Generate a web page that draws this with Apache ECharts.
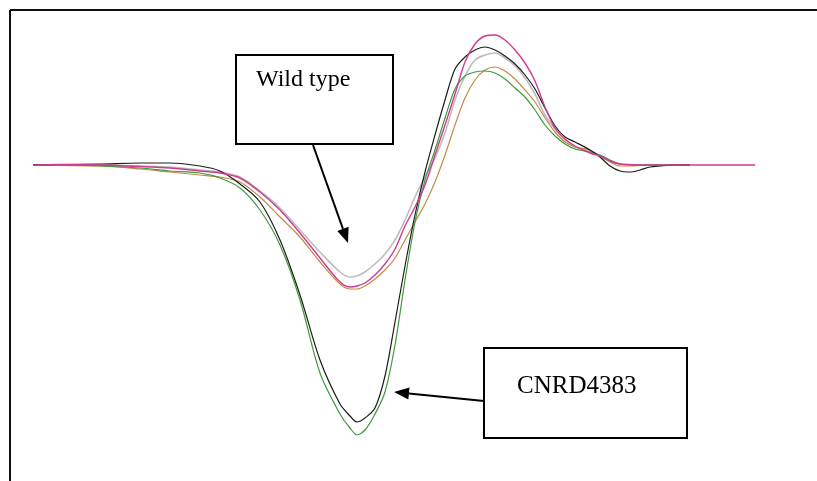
<!DOCTYPE html>
<html>
<head>
<meta charset="utf-8">
<script src="https://cdn.jsdelivr.net/npm/echarts@6/dist/echarts.min.js"></script>
<style>
  html, body { margin: 0; padding: 0; background: #fff; }
  #chart { width: 817px; height: 481px; }
</style>
</head>
<body>
<div id="chart"></div>
<script>
// sample positions (arbitrary field units)
const xs = [0, 2.7, 6.7, 10.7, 13.7, 16.7, 18.7, 20.7, 22.7, 24.7, 26.7, 28.7, 30.7, 31.7, 32.4,
  33.2, 34.2, 35.2, 36.2, 37.2, 38.2, 39.2, 40.2, 41.2, 42.2, 43.2, 44.2, 45.2, 46.2, 47.2,
  48.2, 49.2, 50.2, 51.2, 52.2, 53.2, 54.2, 55.7, 56.7, 57.7, 58.7, 59.7, 60.7, 61.7, 62.7,
  64.2, 65.7, 68.7, 72.2]

// CNRD4383 traces
const blackVals = [0, 0.05, 0.1, 0.2, 0.2, -0.1, -0.6, -1.9, -3.7, -7.5, -13.0, -19.5, -23.9, -25.1, -25.7,
  -25.3, -24.3, -21.1, -15.7, -10.1, -5.0, -0.7, 3.0, 6.5, 9.6, 10.8, 11.5, 11.8, 11.5, 10.9,
  10.1, 9.0, 7.6, 5.7, 3.9, 2.8, 2.3, 1.5, 0.8, -0.1, -0.6, -0.7, -0.5, -0.2, -0.1,
  0, 0, null, null]
const greenVals = [0, 0, -0.1, -0.3, -0.6, -0.8, -1.3, -2.3, -4.5, -8.0, -13.5, -20.8, -24.9, -26.3, -27.0,
  -26.5, -24.9, -22.7, -18.0, -11.5, -5.7, -1.5, 1.5, 4.7, 7.6, 8.9, 9.3, 9.4, 9.2, 8.6,
  7.7, 6.8, 5.5, 4.0, 2.9, 2.1, 1.6, 1.3, 1.0, 0.5, 0.1, 0, 0, 0, 0,
  0, 0, null, null]

// wild type traces
const pinkVals = [0, 0.05, 0, -0.15, -0.3, -0.6, -0.8, -1.3, -2.7, -4.5, -6.8, -9.3, -11.7, -12.2, -12.1,
  -11.8, -11.0, -9.9, -8.4, -6.1, -4.2, -2.0, 1.0, 4.0, 7.1, 10.3, 12.1, 12.9, 13.0, 12.5,
  11.5, 10.2, 8.4, 5.8, 3.7, 2.6, 1.9, 1.2, 0.9, 0.4, 0.1, 0.05, 0, 0, 0,
  0, 0, 0, 0]
const grayVals = [0, 0, 0, -0.1, -0.2, -0.5, -0.7, -1.2, -2.6, -4.3, -6.5, -8.7, -10.7, -11.2, -11.1,
  -10.7, -9.9, -8.9, -7.5, -5.5, -3.2, -1.2, 0.7, 3.2, 6.5, 8.9, 10.5, 11.0, 11.2, 10.7,
  9.9, 8.7, 7.1, 5.0, 3.6, 2.5, 1.8, 1.4, 0.9, 0.4, 0.1, 0, 0, 0, 0,
  0, 0, null, null]
const brownVals = [0, -0.05, -0.1, -0.4, -0.7, -1.0, -1.2, -1.7, -3.2, -5.2, -7.2, -9.7, -11.9, -12.4, -12.4,
  -12.1, -11.4, -10.5, -9.3, -7.5, -5.7, -3.9, -1.7, 1.0, 4.0, 6.7, 8.5, 9.5, 9.8, 9.4,
  8.6, 7.5, 6.3, 4.7, 3.3, 2.3, 1.8, 1.5, 0.9, 0.3, -0.1, -0.1, -0.05, 0, 0,
  0, 0, null, null]

const pairs = vals => xs.map((x, i) => [x, vals[i]])

const lineSeries = (vals, color, width) => ({
  type: 'line',
  data: pairs(vals),
  showSymbol: false,
  smooth: 0.3,
  connectNulls: false,
  lineStyle: { color: color, width: width },
  z: 2
})

// arrow = line + triangle head
const arrow = (x1, y1, x2, y2) => {
  const a = Math.atan2(y2 - y1, x2 - x1)
  const len = 15, half = 6
  const bx = x2 - len * Math.cos(a), by = y2 - len * Math.sin(a)
  const px = -Math.sin(a) * half, py = Math.cos(a) * half
  return [
    { type: 'line', shape: { x1: x1, y1: y1, x2: bx, y2: by }, style: { stroke: '#000', lineWidth: 2 }, z: 10 },
    { type: 'polygon', shape: { points: [[x2, y2], [bx + px, by + py], [bx - px, by - py]] }, style: { fill: '#000' }, z: 10 }
  ]
}

const serif = '"Liberation Serif", "Times New Roman", serif'

const chart = echarts.init(document.getElementById('chart'))
chart.setOption({
  animation: false,
  grid: { left: 33, right: 62, top: 15, bottom: 16 },
  xAxis: { type: 'value', min: 0, max: 72.2, show: false },
  yAxis: { type: 'value', min: -30, max: 15, show: false },
  series: [
    lineSeries(grayVals, '#bdbdbd', 1.6),
    lineSeries(brownVals, '#c48b45', 1.2),
    lineSeries(greenVals, '#3c9a3c', 1.2),
    lineSeries(blackVals, '#1c1c1c', 1.2),
    lineSeries(pinkVals, '#d23a92', 1.4)
  ],
  graphic: [
    { type: 'line', shape: { x1: 10, y1: 10, x2: 817, y2: 10 }, style: { stroke: '#111', lineWidth: 2 } },
    { type: 'line', shape: { x1: 10, y1: 10, x2: 10, y2: 481 }, style: { stroke: '#111', lineWidth: 2 } },
    { type: 'rect', shape: { x: 236, y: 55, width: 157, height: 89 }, style: { fill: '#fff', stroke: '#000', lineWidth: 2 }, z: 10 },
    { type: 'text', x: 256, y: 80, style: { text: 'Wild type', font: '24px ' + serif, fill: '#000', verticalAlign: 'middle' }, z: 11 },
    { type: 'rect', shape: { x: 484, y: 348, width: 203, height: 90 }, style: { fill: '#fff', stroke: '#000', lineWidth: 2 }, z: 10 },
    { type: 'text', x: 517, y: 386, style: { text: 'CNRD4383', font: '25px ' + serif, fill: '#000', verticalAlign: 'middle' }, z: 11 },
    ...arrow(313, 145, 348, 243),
    ...arrow(484, 401, 394, 392)
  ]
})
</script>
</body>
</html>
